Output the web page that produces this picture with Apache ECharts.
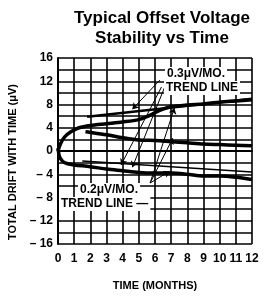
<!DOCTYPE html>
<html>
<head>
<meta charset="utf-8">
<script src="https://cdn.jsdelivr.net/npm/echarts@6/dist/echarts.min.js"></script>
<style>
  html, body { margin: 0; padding: 0; background: #fff; }
  #main { width: 265px; height: 296px; }
</style>
</head>
<body>
<div id="main"></div>
<script>
// months (x) and drift in uV (y)
var upperMonths = [0, 0.15, 0.4, 0.8, 1.3, 2, 3, 4, 5, 5.5, 6, 6.5, 7, 8, 9, 10, 11, 12];
var upperDrift  = [0, 1.2, 2.4, 3.3, 4.0, 4.4, 4.7, 5.0, 5.4, 5.9, 6.6, 7.2, 7.6, 7.9, 8.1, 8.4, 8.6, 8.8];

var middleMonths = [1.7, 2, 3, 4, 5, 6, 7, 8, 9, 10, 11, 12];
var middleDrift  = [3.3, 3.2, 2.8, 2.3, 1.9, 1.8, 1.6, 1.4, 1.2, 1.1, 1.0, 0.9];

var lowerMonths = [0, 0.1, 0.3, 0.6, 1, 2, 3, 4, 5, 6, 7, 8, 9, 10, 11, 12];
var lowerDrift  = [0.5, -1, -1.8, -2.2, -2.4, -2.7, -3.1, -3.4, -3.7, -3.8, -3.8, -4.0, -4.3, -4.3, -4.5, -4.9];

// straight trend lines
var trendUpMonths = [1.8, 12];
var trendUpDrift  = [5.9, 9.0];
var trendLowMonths = [1.5, 12];
var trendLowDrift  = [-1.7, -3.6];

var xTicks = [0, 1, 2, 3, 4, 5, 6, 7, 8, 9, 10, 11, 12];

function pairs(xs, ys) {
  return xs.map(function (x, i) { return [x, ys[i]]; });
}

var chartDom = document.getElementById('main');
var myChart = echarts.init(chartDom, null, { renderer: 'canvas' });
var option;

var fontFam = '"Liberation Sans", Arial, sans-serif';
var arrowStyle = { color: '#000', width: 1, type: 'solid' };

option = {
  animation: false,
  backgroundColor: '#fff',
  title: {
    text: 'Typical Offset Voltage\nStability vs Time',
    left: 157,
    top: 3,
    textAlign: 'center',
    textStyle: { fontFamily: fontFam, fontWeight: 'bold', fontSize: 17, lineHeight: 20, color: '#000' }
  },
  grid: { left: 58, top: 58, right: 13, bottom: 45 },
  xAxis: {
    type: 'value',
    min: 0,
    max: 12,
    interval: 1,
    name: 'TIME (MONTHS)',
    nameLocation: 'middle',
    nameGap: 36,
    nameTextStyle: { fontFamily: fontFam, fontWeight: 'bold', fontSize: 11, color: '#000' },
    axisLine: { show: true, lineStyle: { color: '#000', width: 2 } },
    axisTick: { show: false },
    axisLabel: {
      margin: 9,
      fontFamily: fontFam, fontWeight: 'bold', fontSize: 12, color: '#000',
      formatter: function (v) { return xTicks.indexOf(v) >= 0 ? String(v) : ''; }
    },
    splitLine: { show: true, lineStyle: { color: '#000', width: 1.6 } }
  },
  yAxis: {
    type: 'value',
    min: -16,
    max: 16,
    interval: 2,
    axisLine: { show: true, lineStyle: { color: '#000', width: 2 } },
    axisTick: { show: false },
    axisLabel: {
      margin: 5,
      fontFamily: fontFam, fontWeight: 'bold', fontSize: 12, color: '#000',
      formatter: function (v) {
        if (v % 4 !== 0) return '';
        return v < 0 ? '\u2013 ' + (-v) : String(v);
      }
    },
    splitLine: { show: true, lineStyle: { color: '#000', width: 1.6 } }
  },
  series: [
    {
      name: 'upper',
      type: 'line',
      smooth: 0.3,
      showSymbol: false,
      lineStyle: { color: '#000', width: 3.5 },
      data: pairs(upperMonths, upperDrift),
      z: 5
    },
    {
      name: 'middle',
      type: 'line',
      smooth: 0.3,
      showSymbol: false,
      lineStyle: { color: '#000', width: 3.5 },
      data: pairs(middleMonths, middleDrift),
      z: 5
    },
    {
      name: 'lower',
      type: 'line',
      smooth: 0.3,
      showSymbol: false,
      lineStyle: { color: '#000', width: 3.5 },
      data: pairs(lowerMonths, lowerDrift),
      z: 5
    },
    {
      name: 'trendUp',
      type: 'line',
      showSymbol: false,
      lineStyle: { color: '#000', width: 2.5 },
      data: pairs(trendUpMonths, trendUpDrift),
      z: 5
    },
    {
      name: 'trendLow',
      type: 'line',
      clip: false,
      showSymbol: false,
      lineStyle: { color: '#000', width: 1.5 },
      data: pairs(trendLowMonths, trendLowDrift),
      z: 5,
      markLine: {
        silent: true,
        symbol: ['none', 'arrow'],
        symbolSize: 6,
        label: { show: false },
        lineStyle: arrowStyle,
        data: [
          // from the 0.3 label
          [{ coord: [6.3, 12.2] }, { coord: [4.6, 7.2] }],
          [{ coord: [6.4, 11.0] }, { coord: [3.9, -2.4] }],
          [{ coord: [6.6, 11.0] }, { coord: [4.6, -2.8] }],
          // from the 0.2 label
          [{ coord: [5.7, -5.5] }, { coord: [7.2, 7.4] }],
          [{ coord: [5.7, -5.5] }, { coord: [7.1, 2.2] }],
          [{ coord: [5.7, -5.5] }, { coord: [6.9, -3.5] }],
          // pointer going off to the right
          [{ coord: [9.8, 4.4] }, { coord: [12.9, 6.5], symbol: 'none' }]
        ]
      }
    }
  ],
  graphic: [
    {
      type: 'text', x: 13, y: 162, z: 100, rotation: Math.PI / 2,
      style: {
        text: 'TOTAL DRIFT WITH TIME (\u03bcV)', fontFamily: fontFam, fontWeight: 'bold', fontSize: 11,
        fill: '#000', align: 'center', verticalAlign: 'middle'
      }
    },
    {
      type: 'text', left: 165, top: 67, z: 100,
      style: { text: '0.3\u03bcV/MO.', fontFamily: fontFam, fontWeight: 'bold', fontSize: 12, fill: '#000', backgroundColor: '#fff', padding: [1, 2] }
    },
    {
      type: 'text', left: 164, top: 81, z: 100,
      style: { text: 'TREND LINE', fontFamily: fontFam, fontWeight: 'bold', fontSize: 12, fill: '#000', backgroundColor: '#fff', padding: [1, 2] }
    },
    {
      type: 'text', left: 78, top: 183, z: 100,
      style: { text: '0.2\u03bcV/MO.', fontFamily: fontFam, fontWeight: 'bold', fontSize: 12, fill: '#000', backgroundColor: '#fff', padding: [1, 2] }
    },
    {
      type: 'text', left: 59, top: 197, z: 100,
      style: { text: 'TREND LINE \u2014', fontFamily: fontFam, fontWeight: 'bold', fontSize: 12, fill: '#000', backgroundColor: '#fff', padding: [1, 2] }
    }
  ]
};

option && myChart.setOption(option);
window.addEventListener('resize', myChart.resize);
</script>
</body>
</html>
